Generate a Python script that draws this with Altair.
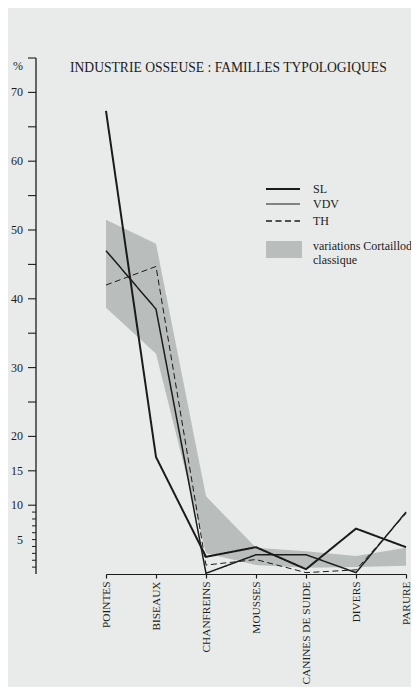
import altair as alt
import pandas as pd

# ---- data ----
categories = ["POINTES", "BISEAUX", "CHANFREINS", "MOUSSES",
              "CANINES DE SUIDE", "DIVERS", "PARURE"]
sl_values = [67.3, 17.0, 2.5, 3.9, 0.7, 6.6, 3.9]
vdv_values = [47.0, 38.5, 0.1, 2.8, 2.8, 0.2, 9.0]
th_values = [42.0, 44.7, 1.3, 2.1, 0.2, 0.6, 8.8]
band_low = [38.7, 32.0, 3.0, 1.3, 0.9, 1.0, 1.2]
band_high = [51.5, 48.0, 11.3, 3.8, 3.3, 2.6, 3.8]

series_names = ["SL", "VDV", "TH"]
band_label = "variations Cortaillod\nclassique"
title_text = "INDUSTRIE OSSEUSE : FAMILLES TYPOLOGIQUES"

y_domain = [0, 75]
major_ticks = [10, 15, 20, 25, 30, 35, 40, 45, 50, 55, 60, 65, 70, 75]
minor_ticks = [1, 2, 3, 4, 5, 6, 7, 8, 9]
y_labelled = [5, 10, 15, 20, 30, 40, 50, 60, 70]
unit_label = "%"
unit_value = 75

FONT = "Liberation Serif"
INK = "#1b1b1b"
BAND = "#b9bebd"
BG = "#e9ebea"

df = pd.DataFrame({"cat": categories, "SL": sl_values, "VDV": vdv_values,
                   "TH": th_values, "low": band_low, "high": band_high})
long = df.melt(id_vars=["cat"], value_vars=series_names,
               var_name="serie", value_name="pct")

xscale = alt.Scale(type="point", domain=categories, range=[70, 370], padding=0)
yscale = alt.Scale(domain=y_domain, nice=False, zero=True)

xaxis = alt.Axis(title=None, labelAngle=270, labelFont=FONT, labelFontSize=11.3,
                 labelColor=INK, domainColor=INK, tickColor=INK, tickSize=4,
                 labelPadding=3, grid=False, domainWidth=1.2, tickWidth=1.2,
                 labelAlign="right", labelBaseline="middle", labelOverlap=False)

band = alt.Chart(df).mark_area(color=BAND, opacity=1, interpolate="linear").encode(
    x=alt.X("cat:O", scale=xscale, axis=xaxis, sort=categories),
    y=alt.Y("low:Q", scale=yscale, axis=None),
    y2="high:Q",
)

lines = alt.Chart(long).mark_line(color=INK).encode(
    x=alt.X("cat:O", scale=xscale, sort=categories),
    y=alt.Y("pct:Q", scale=yscale, axis=None),
    detail="serie:N",
    strokeDash=alt.StrokeDash("serie:N", legend=None,
                              scale=alt.Scale(domain=series_names,
                                              range=[[1, 0], [1, 0], [6, 3.5]])),
    strokeWidth=alt.StrokeWidth("serie:N", legend=None,
                                scale=alt.Scale(domain=series_names,
                                                range=[2.0, 1.0, 1.4])),
    order=alt.Order("order:Q"),
).transform_calculate(order="indexof(['POINTES','BISEAUX','CHANFREINS','MOUSSES','CANINES DE SUIDE','DIVERS','PARURE'], datum.cat)")

# ---- y axis line, ticks and labels, placed through the y scale ----
yline = alt.Chart(pd.DataFrame({"lo": [y_domain[0]], "hi": [y_domain[1]]})).mark_rule(
    color=INK, strokeWidth=1.3).encode(
    y=alt.Y("lo:Q", scale=yscale, axis=None), y2="hi:Q", x=alt.value(0))
major = alt.Chart(pd.DataFrame({"v": major_ticks})).mark_rule(
    color=INK, strokeWidth=1.1).encode(
    y=alt.Y("v:Q", scale=yscale, axis=None), x=alt.value(-8), x2=alt.value(0))
minor = alt.Chart(pd.DataFrame({"v": minor_ticks})).mark_rule(
    color=INK, strokeWidth=1.0).encode(
    y=alt.Y("v:Q", scale=yscale, axis=None), x=alt.value(-4), x2=alt.value(0))
ylabels = alt.Chart(pd.DataFrame({"v": y_labelled})).mark_text(
    font=FONT, fontSize=12, color=INK, align="right", baseline="middle").encode(
    y=alt.Y("v:Q", scale=yscale, axis=None), x=alt.value(-13), text="v:Q")
unit = alt.Chart(pd.DataFrame({"v": [unit_value], "t": [unit_label]})).mark_text(
    font=FONT, fontSize=12, color=INK, align="right", baseline="top", dy=3).encode(
    y=alt.Y("v:Q", scale=yscale, axis=None), x=alt.value(-13), text="t:N")

# ---- title ----
title = alt.Chart(pd.DataFrame({"t": [title_text]})).mark_text(
    font=FONT, fontSize=13.6, color=INK, align="left", baseline="alphabetic"
).encode(text="t:N", x=alt.value(34), y=alt.value(14))

# ---- manual legend ----
legend_layers = []
leg_y = [131, 146, 163]
leg_dash = [[1, 0], [1, 0], [6, 3.5]]
leg_w = [2.0, 1.0, 1.4]
for name, yy, dash, w in zip(series_names, leg_y, leg_dash, leg_w):
    d = pd.DataFrame({"label": [name]})
    legend_layers.append(
        alt.Chart(d).mark_rule(color=INK, strokeWidth=w, strokeDash=dash).encode(
            x=alt.value(230), x2=alt.value(264), y=alt.value(yy))
    )
    legend_layers.append(
        alt.Chart(d).mark_text(font=FONT, fontSize=12, color=INK, align="left",
                               baseline="middle").encode(
            text="label:N", x=alt.value(277), y=alt.value(yy))
    )
bd = pd.DataFrame({"label": [band_label]})
legend_layers.append(
    alt.Chart(bd).mark_rect(color=BAND).encode(
        x=alt.value(230), x2=alt.value(266), y=alt.value(183), y2=alt.value(200))
)
legend_layers.append(
    alt.Chart(bd).mark_text(font=FONT, fontSize=12, color=INK, align="left",
                            baseline="middle", lineBreak="\n", lineHeight=14).encode(
        text="label:N", x=alt.value(277), y=alt.value(188))
)

chart = alt.layer(band, lines, yline, major, minor, ylabels, unit, title,
                  *legend_layers).properties(
    width=367, height=516,
    autosize=alt.AutoSizeParams(type="none"),
    padding={"left": 28, "top": 50, "right": 8, "bottom": 113},
    background=BG,
).configure_view(stroke=None)

chart.save("out.html", embed_options={"renderer": "svg", "actions": False})
